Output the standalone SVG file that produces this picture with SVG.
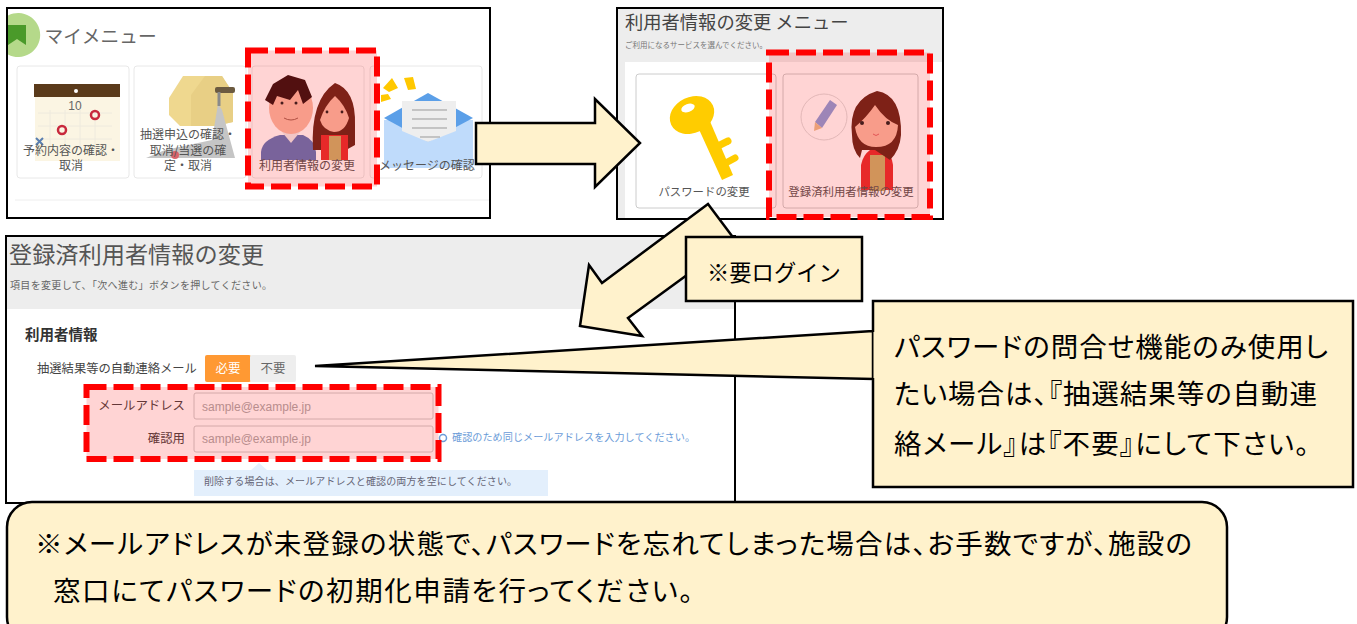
<svg xmlns="http://www.w3.org/2000/svg" width="1357" height="624" viewBox="0 0 1357 624">
<defs><style>
text{font-family:"Noto Sans CJK JP","Noto Sans",sans-serif}
.frame{fill:#fff;stroke:#000;stroke-width:2}
.card{fill:#fff;stroke:#e8e8e8;stroke-width:1}
.card2{fill:#fff;stroke:#ccc;stroke-width:1}
.hl{fill:#ff0000;fill-opacity:.17;stroke:#f00;stroke-width:6;stroke-dasharray:20 7}
.y{fill:#fff2cc;stroke:#000;stroke-width:2.5;stroke-linejoin:miter}
.t12{font-size:12px;fill:#555;text-anchor:middle}
.t11{font-size:11.4px;fill:#555;text-anchor:middle}
.big{font-size:27.5px;fill:#000;font-feature-settings:"palt"}
.skin{fill:#f7bca6}.hair{fill:#64281c}.red{fill:#e23232}
</style></defs>
<rect width="1357" height="624" fill="#fff"/>

<g id="panel-mymenu">
<rect class="frame" x="7" y="8" width="483" height="210"/>
<path d="M8 15.500A22 22 0 1 1 8 54.500Z" fill="#b5d98a"/>
<path d="M8 25H26V45L17 39L8 45Z" fill="#4a9a2a"/>
<text x="44.500" y="43" font-size="18.700" fill="#666">マイメニュー</text>
<rect class="card" x="17" y="66" width="112" height="112" rx="3"/>
<rect class="card" x="134" y="66" width="112" height="112" rx="3"/>
<rect class="card" x="252" y="66" width="112" height="112" rx="3"/>
<rect class="card" x="370" y="66" width="112" height="112" rx="3"/>
<line x1="15" y1="200" x2="489" y2="200" stroke="#eee"/>
<!-- calendar -->
<rect x="35" y="90" width="85" height="71" fill="#fbf5e3"/>
<rect x="34" y="84" width="86" height="13" fill="#5a3a1a"/>
<circle cx="76" cy="91" r="2" fill="#fff"/>
<path d="M38 113H112M38 126H112M38 139H112M50 110V150M65 110V150M80 110V150M95 110V150" stroke="#eeeade" fill="none"/>
<text x="75" y="110" font-size="12" fill="#666" text-anchor="middle" style="font-family:'Liberation Sans',sans-serif">10</text>
<circle cx="62" cy="130" r="4" fill="none" stroke="#c8283c" stroke-width="2.500"/>
<circle cx="95" cy="115" r="4" fill="none" stroke="#c8283c" stroke-width="2.500"/>
<path d="M36 138L43 145M43 138L36 145" stroke="#5a7fb0" stroke-width="2"/>
<text class="t12" x="71" y="155">予約内容の確認・</text>
<text class="t12" x="71" y="170">取消</text>
<!-- box and roller -->
<path d="M169 98L183 76H222L233 93V122L215 126H180L169 115Z" fill="#efd88f"/>
<path d="M191 126V95L205 76H222L233 93V122L215 126Z" fill="#e8cf85"/>
<rect x="215" y="87" width="20" height="6" rx="2" fill="#6b5a40"/>
<path d="M218 104L222 110L235 158H146L165 150L212 140Z" fill="#c5c5c5"/>
<path d="M219 92V106" stroke="#8a8a8a" stroke-width="3"/>
<circle cx="175" cy="155" r="4" fill="#d9636b"/>
<text class="t12" x="188" y="139">抽選申込の確認・</text>
<text class="t12" x="188" y="155">取消/当選の確</text>
<text class="t12" x="188" y="170">定・取消</text>
<!-- people -->
<path d="M261 160V152Q262 140 280 135H303Q315 140 316 152V160Z" fill="#5e78bb"/>
<path d="M282 132L291 143L300 132Z" fill="#eee"/>
<ellipse cx="291" cy="108" rx="22" ry="26" class="skin"/>
<path d="M265 100L273 84L288 75L305 80L312 97L303 104L298 90L290 100L277 96L273 105Z" fill="#2f1414"/>
<circle cx="282" cy="103" r="1.500" fill="#222"/><circle cx="296" cy="103" r="1.500" fill="#222"/>
<path d="M284 118Q291 122 298 118" stroke="#a06050" fill="none"/>
<path d="M313 150Q310 100 335 83Q356 90 355 125V145L346 150Z" class="hair"/>
<path d="M320 120Q325 105 335 96Q345 105 349 118Q345 132 334 132Q323 130 320 120Z" class="skin"/>
<rect x="321" y="135" width="27" height="25" class="red"/>
<rect x="329" y="136" width="12" height="24" fill="#c8b36d"/>
<circle cx="327" cy="112" r="1.400" fill="#222"/><circle cx="342" cy="112" r="1.400" fill="#222"/>
<text class="t12" x="307" y="170">利用者情報の変更</text>
<!-- envelope -->
<rect x="384" y="120" width="89" height="48" fill="#bfdbfb"/>
<path d="M384 118L428 93L473 118L428 142Z" fill="#5b9fe8"/>
<rect x="402" y="101" width="54" height="30" fill="#eee"/>
<path d="M402 131H456L428 142Z" fill="#eee"/>
<path d="M412 110H447M412 119H447M412 128H447M420 137H440" stroke="#999"/>
<path d="M383 88L392 78L398 88L389 92ZM404 78L413 77L416 89L408 90ZM381 95L381 102L391 99L388 94Z" fill="#ffc800"/>
<text class="t12" x="427" y="170">メッセージの確認</text>
<rect class="hl" x="248" y="50.500" width="129" height="136"/>
</g>

<g id="panel-menu">
<rect class="frame" x="617" y="8" width="326" height="211"/>
<rect x="618" y="9" width="324" height="209" fill="#ededed"/>
<rect x="625" y="62" width="317" height="156" fill="#fff"/>
<text x="625" y="29" font-size="18.300" fill="#444">利用者情報の変更 メニュー</text>
<text x="625" y="48" font-size="7.500" fill="#777">ご利用になるサービスを選んでください。</text>
<rect class="card2" x="636" y="74" width="140" height="134" rx="3"/>
<rect class="card2" x="783" y="74" width="135" height="134" rx="3"/>
<g fill="#ffcc00">
<ellipse cx="692" cy="115" rx="23" ry="18" transform="rotate(-25 692 115)"/>
<path d="M697 125L709 119L733 175L722 180Z"/>
<path d="M714 148L728 141" stroke="#ffcc00" stroke-width="7" stroke-linecap="round"/>
<path d="M722 165L735 158" stroke="#ffcc00" stroke-width="7" stroke-linecap="round"/>
</g>
<ellipse cx="688" cy="108" rx="7" ry="4" transform="rotate(-20 688 108)" fill="#fff"/>
<text class="t11" x="704" y="196">パスワードの変更</text>
<circle cx="824" cy="117" r="23" fill="#fff" stroke="#ddd"/>
<path d="M815 122L830 100L837 105L822 128Z" fill="#8aa0dc"/>
<path d="M815 122L822 128L814 131Z" fill="#e8c090"/>
<path d="M861 190V165Q863 155 870 150H885Q892 155 893 165V190Z" class="red"/>
<rect x="870" y="155" width="15" height="36" fill="#c8b36d"/>
<path d="M852 135Q848 100 877 91Q902 95 901 135Q900 150 890 160L875 150H862L860 158Q852 150 852 135Z" class="hair"/>
<path d="M855 127Q866 118 875 105Q885 120 898 125Q897 147 876 147Q858 147 855 127Z" class="skin"/>
<circle cx="862" cy="123" r="2" fill="#222"/><circle cx="888" cy="123" r="2" fill="#222"/>
<path d="M873 134Q876 137 879 134" stroke="#d66" fill="none"/>
<text class="t11" x="851" y="196">登録済利用者情報の変更</text>
<rect class="hl" x="769" y="52.500" width="161" height="164.500"/>
</g>

<g id="panel-form">
<rect class="frame" x="6" y="236" width="729" height="267"/>
<rect x="7" y="237" width="727" height="72" fill="#ededed"/>
<text x="9" y="263" font-size="23.200" fill="#555">登録済利用者情報の変更</text>
<text x="10" y="289" font-size="10" fill="#666" textLength="262">項目を変更して、「次へ進む」ボタンを押してください。</text>
<text x="25" y="340" font-size="14.500" font-weight="700" fill="#333">利用者情報</text>
<text x="37" y="373" font-size="12.300" fill="#444">抽選結果等の自動連絡メール</text>
<rect x="205" y="355" width="46" height="27" rx="2" fill="#ff9933"/>
<rect x="250" y="355" width="46" height="27" rx="2" fill="#eee"/>
<text x="228" y="373" font-size="12.500" fill="#fff" text-anchor="middle">必要</text>
<text x="273" y="373" font-size="12.500" fill="#666" text-anchor="middle">不要</text>
<text x="185" y="410" font-size="12.400" fill="#444" text-anchor="end">メールアドレス</text>
<text x="185" y="443" font-size="12.400" fill="#444" text-anchor="end">確認用</text>
<rect x="194" y="393" width="239" height="26" rx="2" fill="#fff" stroke="#ccc"/>
<rect x="194" y="426" width="239" height="26" rx="2" fill="#fff" stroke="#ccc"/>
<text x="202" y="411" font-size="12" fill="#aaa" style="font-family:'Liberation Sans',sans-serif">sample@example.jp</text>
<text x="202" y="443" font-size="12" fill="#aaa" style="font-family:'Liberation Sans',sans-serif">sample@example.jp</text>
<circle cx="443" cy="438" r="3.500" fill="none" stroke="#6a9bd8" stroke-width="1.500"/>
<text x="452" y="441" font-size="10.100" fill="#6a9bd8" textLength="243">確認のため同じメールアドレスを入力してください。</text>
<path d="M194 470H251L259 463L267 470H548V496H194Z" fill="#e3effc"/>
<text x="204" y="485" font-size="10" fill="#667" textLength="313">削除する場合は、メールアドレスと確認の両方を空にしてください。</text>
<rect class="hl" x="86.500" y="387" width="352" height="72"/>
</g>

<g id="connectors">
<path class="y" d="M476 123H595V99L640 143L595 187V164H476Z"/>
<path class="y" d="M708 204L735 240L628 318L642 336L580 326L589 265L602 283Z"/>
</g>

<g id="note-login">
<rect class="y" x="686" y="237" width="176" height="64"/>
<text x="707" y="281" font-size="22.300" fill="#000">※要ログイン</text>
</g>

<g id="note-password">
<path class="y" d="M873 331L315 366L873 379V301H1353V487H873Z"/>
<path d="M875 332V378" stroke="#fff2cc" stroke-width="3"/>
<text class="big" x="894" y="357" textLength="434">パスワードの問合せ機能のみ使用し</text>
<text class="big" x="894" y="404" textLength="423">たい場合は、『抽選結果等の自動連</text>
<text class="big" x="894" y="454" textLength="415">絡メール』は『不要』にして下さい。</text>
</g>

<g id="note-bottom">
<rect class="y" x="7" y="502" width="1220" height="140" rx="25"/>
<text class="big" x="35" y="554" textLength="1157">※メールアドレスが未登録の状態で、パスワードを忘れてしまった場合は、お手数ですが、施設の</text>
<text class="big" x="53" y="601" textLength="640">窓口にてパスワードの初期化申請を行ってください。</text>
</g>
</svg>
